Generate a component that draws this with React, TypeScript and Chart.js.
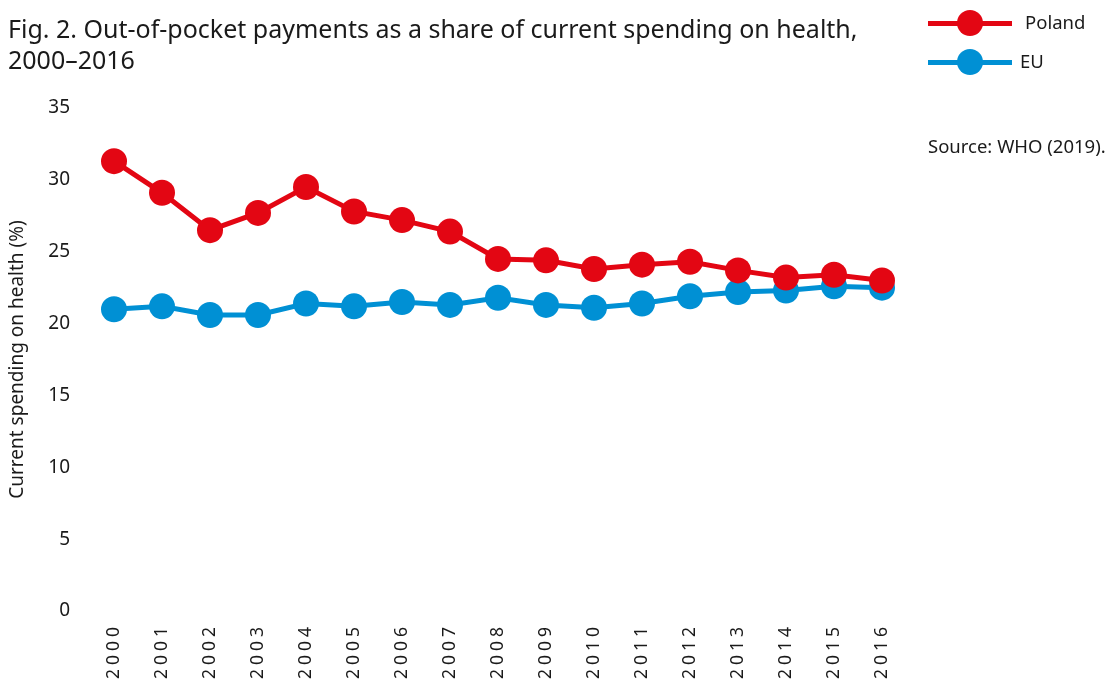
import React, { useEffect, useRef } from "react";
import { Chart, registerables } from "chart.js";

Chart.register(...registerables);

const years = ["2000","2001","2002","2003","2004","2005","2006","2007","2008","2009","2010","2011","2012","2013","2014","2015","2016"];
const poland = [31.3, 29.1, 26.5, 27.7, 29.5, 27.8, 27.2, 26.4, 24.5, 24.4, 23.8, 24.1, 24.3, 23.7, 23.2, 23.4, 23.0];
const eu = [21.0, 21.2, 20.6, 20.6, 21.4, 21.2, 21.5, 21.3, 21.8, 21.3, 21.1, 21.4, 21.9, 22.2, 22.3, 22.6, 22.5];
const yTicks = [0, 5, 10, 15, 20, 25, 30, 35];

const RED = "#E30613";
const BLUE = "#0090D4";
const FONT = "'Noto Sans', 'Open Sans', sans-serif";
const TEXT = "#1a1a1a";

function LegendItem({ color, label, top, textLeft }: { color: string; label: string; top: number; textLeft: number }) {
  return (
    <div style={{ position: "absolute", left: 928, top, height: 26, width: 186 }}>
      <div style={{ position: "absolute", left: 0, top: 11, width: 84, height: 5, background: color }} />
      <div style={{ position: "absolute", left: 29, top: 0, width: 26, height: 26, borderRadius: 13, background: color }} />
      <div style={{ position: "absolute", left: textLeft, top: -1, fontSize: 18.5, color: TEXT, fontFamily: FONT, whiteSpace: "nowrap" }}>{label}</div>
    </div>
  );
}

const xLetterSpacing = {
  id: "xLetterSpacing",
  afterUpdate(chart: any) {
    const s = chart.scales.x;
    if (s && !s.__wrapped) {
      const orig = s.drawLabels.bind(s);
      s.drawLabels = (area: any) => {
        const ctx = s.ctx;
        ctx.save();
        (ctx as any).letterSpacing = "4px";
        orig(area);
        ctx.restore();
      };
      s.__wrapped = true;
    }
  },
};

export default function App() {
  const ref = useRef<HTMLCanvasElement | null>(null);
  useEffect(() => {
    if (!ref.current) return;
    const chart = new Chart(ref.current, {
      type: "line",
      data: {
        labels: years,
        datasets: [
          {
            label: "Poland",
            data: poland,
            borderColor: RED,
            backgroundColor: RED,
            borderWidth: 5,
            pointRadius: 13,
            pointHoverRadius: 13,
            pointBorderWidth: 0,
            pointBackgroundColor: RED,
            clip: false as any,
          },
          {
            label: "EU",
            data: eu,
            borderColor: BLUE,
            backgroundColor: BLUE,
            borderWidth: 5,
            pointRadius: 13,
            pointHoverRadius: 13,
            pointBorderWidth: 0,
            pointBackgroundColor: BLUE,
            clip: false as any,
          },
        ],
      },
      plugins: [xLetterSpacing],
      options: {
        animation: false,
        responsive: false,
        maintainAspectRatio: false,
        layout: { padding: { left: 0, top: 108, right: 232, bottom: 0 } },
        plugins: { legend: { display: false }, tooltip: { enabled: false }, title: { display: false } },
        scales: {
          x: {
            offset: false,
            grid: { display: false, drawTicks: false },
            border: { display: false },
            ticks: {
              color: TEXT,
              font: { family: FONT, size: 17.5 },
              maxRotation: 90,
              minRotation: 90,
              padding: 12,
              autoSkip: false,
            },
            afterFit: (s: any) => { s.height = 79; },
          },
          y: {
            min: 0,
            max: 35,
            afterBuildTicks: (s: any) => { s.ticks = yTicks.map((v) => ({ value: v })); },
            grid: { display: false, drawTicks: false },
            border: { display: false },
            ticks: {
              color: TEXT,
              font: { family: FONT, size: 19 },
              padding: 44,
            },
            title: {
              display: true,
              text: "Current spending on health (%)",
              color: TEXT,
              font: { family: FONT, size: 19 },
              padding: { top: 6, bottom: 0 },
            },
            afterFit: (s: any) => { s.width = 114; },
          },
        },
      },
    });
    return () => chart.destroy();
  }, []);

  return (
    <div style={{ position: "absolute", left: 0, top: 0, width: 1114, height: 690, background: "#fff", overflow: "hidden" }}>
      <canvas ref={ref} width={1114} height={690} style={{ position: "absolute", left: 0, top: 0, width: 1114, height: 690 }} />
      <div style={{ position: "absolute", left: 8, top: 13, fontFamily: FONT, fontSize: 25, lineHeight: "31px", color: TEXT, whiteSpace: "nowrap" }}>
        Fig. 2. Out-of-pocket payments as a share of current spending on health,<br />2000–2016
      </div>
      <LegendItem color={RED} label="Poland" top={10} textLeft={97} />
      <LegendItem color={BLUE} label="EU" top={49} textLeft={92} />
      <div style={{ position: "absolute", left: 928, top: 133, fontFamily: FONT, fontSize: 18.5, color: TEXT, whiteSpace: "nowrap" }}>
        Source: WHO (2019).
      </div>
    </div>
  );
}
